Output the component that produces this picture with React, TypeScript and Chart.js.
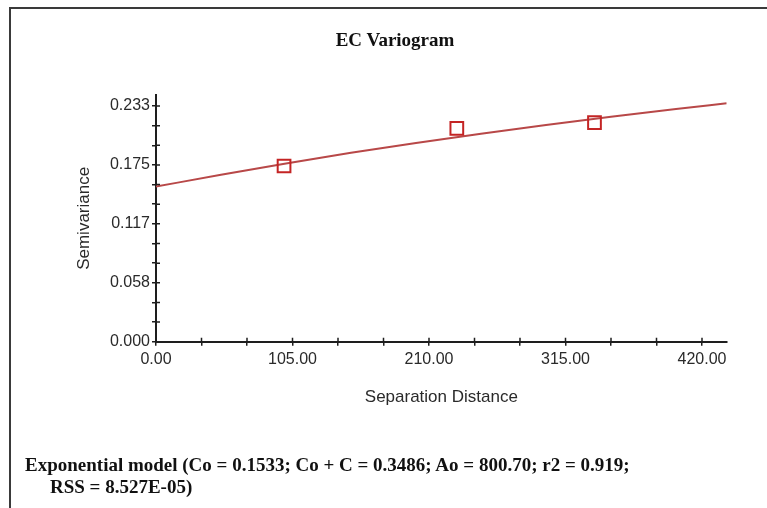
import React, { useEffect, useRef } from 'react';
import { Chart, registerables } from 'chart.js';

Chart.register(...registerables);

const chartTitle = 'EC Variogram';
const xAxisTitle = 'Separation Distance';
const yAxisTitle = 'Semivariance';
const footerLine1 = 'Exponential model (Co = 0.1533; Co + C = 0.3486; Ao = 800.70; r2 = 0.919;';
const footerLine2 = 'RSS = 8.527E-05)';

// Observed (binned) semivariance points
const sampleLag = [98.5, 231.4, 337.3];
const sampleSemivariance = [0.1737, 0.211, 0.2165];

// Fitted model curve
const modelLag = [0, 50, 100, 150, 200, 250, 300, 350, 400, 439];
const modelSemivariance = [0.1533, 0.1651, 0.1762, 0.1867, 0.1965, 0.2057, 0.2143, 0.2225, 0.2301, 0.2357];

const xMajorTicks = [0, 105, 210, 315, 420];
const xTickLabels = ['0.00', '105.00', '210.00', '315.00', '420.00'];
const yMajorTicks = [0, 0.05825, 0.1165, 0.17475, 0.233];
const yTickLabels = ['0.000', '0.058', '0.117', '0.175', '0.233'];
const minorDivisions = 3;
const xMax = 439;
const yMax = 0.2439;

const axisColor = '#1e1e1e';
const textColor = '#2a2a2a';
const lineColor = '#b84848';
const markerColor = '#c42424';
const sansFamily = "'Liberation Sans', Arial, sans-serif";
const serifFamily = "'Liberation Serif', 'Times New Roman', serif";

function withMinor(majors: number[]): number[] {
  const out: number[] = [];
  for (let i = 0; i < majors.length - 1; i++) {
    for (let k = 0; k < minorDivisions; k++) {
      out.push(majors[i] + ((majors[i + 1] - majors[i]) * k) / minorDivisions);
    }
  }
  out.push(majors[majors.length - 1]);
  return out;
}

function labelFor(v: number, majors: number[], labels: string[]): string {
  for (let i = 0; i < majors.length; i++) {
    if (Math.abs(v - majors[i]) < 1e-7) return labels[i];
  }
  return '';
}

const xTicks = withMinor(xMajorTicks);
const yTicks = withMinor(yMajorTicks);

const innerTicks = {
  id: 'innerTicks',
  afterDraw(chart: any) {
    const { ctx, chartArea, scales } = chart;
    ctx.save();
    ctx.strokeStyle = axisColor;
    ctx.lineWidth = 1.5;
    ctx.beginPath();
    scales.x.ticks.forEach((t: any) => {
      const p = scales.x.getPixelForValue(t.value);
      ctx.moveTo(p, chartArea.bottom);
      ctx.lineTo(p, chartArea.bottom - 4);
    });
    scales.y.ticks.forEach((t: any) => {
      const p = scales.y.getPixelForValue(t.value);
      ctx.moveTo(chartArea.left, p);
      ctx.lineTo(chartArea.left + 4, p);
    });
    ctx.stroke();
    ctx.restore();
  },
};

export default function App() {
  const canvasRef = useRef<HTMLCanvasElement | null>(null);

  useEffect(() => {
    if (!canvasRef.current) return;
    const chart = new Chart(canvasRef.current, {
      type: 'scatter',
      data: {
        datasets: [
          {
            label: 'Sample',
            data: sampleLag.map((x, i) => ({ x, y: sampleSemivariance[i] })),
            showLine: false,
            pointStyle: 'rect',
            pointRadius: 9,
            pointHoverRadius: 9,
            backgroundColor: 'rgba(0,0,0,0)',
            borderColor: markerColor,
            borderWidth: 2,
            order: 0,
          },
          {
            label: 'Model',
            data: modelLag.map((x, i) => ({ x, y: modelSemivariance[i] })),
            showLine: true,
            pointRadius: 0,
            borderColor: lineColor,
            borderWidth: 2,
            cubicInterpolationMode: 'monotone',
            order: 1,
          },
        ],
      },
      options: {
        responsive: false,
        animation: false,
        devicePixelRatio: 1,
        layout: { padding: { top: 95, right: 40.3, bottom: 0, left: 0 } },
        plugins: {
          legend: { display: false },
          tooltip: { enabled: false },
          title: { display: false },
        },
        scales: {
          x: {
            type: 'linear',
            min: 0,
            max: xMax,
            afterBuildTicks: (s: any) => {
              s.ticks = xTicks.map((v) => ({ value: v }));
            },
            afterFit: (s: any) => {
              s.height = 166.3;
            },
            grid: {
              display: true,
              drawOnChartArea: false,
              drawTicks: true,
              tickLength: 4,
              color: axisColor,
              lineWidth: 1.5,
            },
            border: { display: true, color: axisColor, width: 2 },
            ticks: {
              autoSkip: false,
              maxRotation: 0,
              minRotation: 0,
              padding: 4,
              color: textColor,
              font: { family: sansFamily, size: 16 },
              callback: (v: any) => labelFor(Number(v), xMajorTicks, xTickLabels),
            },
            title: {
              display: true,
              text: xAxisTitle,
              color: textColor,
              font: { family: sansFamily, size: 17 },
              padding: { top: 0, bottom: 100.8 },
            },
          },
          y: {
            type: 'linear',
            min: 0,
            max: yMax,
            afterBuildTicks: (s: any) => {
              s.ticks = yTicks.map((v) => ({ value: v }));
            },
            afterFit: (s: any) => {
              s.width = 156;
            },
            grid: {
              display: true,
              drawOnChartArea: false,
              drawTicks: true,
              tickLength: 4,
              color: axisColor,
              lineWidth: 1.5,
            },
            border: { display: true, color: axisColor, width: 2 },
            ticks: {
              autoSkip: false,
              padding: 2,
              color: textColor,
              font: { family: sansFamily, size: 16 },
              callback: (v: any) => labelFor(Number(v), yMajorTicks, yTickLabels),
            },
            title: {
              display: true,
              text: yAxisTitle,
              color: textColor,
              font: { family: sansFamily, size: 17 },
              padding: { top: 73.8, bottom: 0 },
            },
          },
        },
      },
      plugins: [innerTicks],
    } as any);
    return () => chart.destroy();
  }, []);

  return (
    <div
      style={{
        position: 'fixed',
        left: 0,
        top: 0,
        width: 767,
        height: 508,
        overflow: 'hidden',
        background: '#ffffff',
      }}
    >
      <div
        style={{
          position: 'absolute',
          left: 8.5,
          top: 7,
          width: 900,
          height: 700,
          border: '2px solid #3a3a3a',
          boxSizing: 'border-box',
        }}
      />
      <canvas
        ref={canvasRef}
        width={767}
        height={508}
        style={{ position: 'absolute', left: 0, top: 0, width: 767, height: 508 }}
      />
      <div
        style={{
          position: 'absolute',
          left: 395,
          top: 29,
          transform: 'translateX(-50%)',
          whiteSpace: 'nowrap',
          font: `bold 19px ${serifFamily}`,
          lineHeight: '22px',
          color: '#111111',
        }}
      >
        {chartTitle}
      </div>
      <div
        style={{
          position: 'absolute',
          left: 25,
          top: 453.6,
          whiteSpace: 'nowrap',
          font: `bold 19px ${serifFamily}`,
          lineHeight: '22px',
          color: '#111111',
        }}
      >
        <div>{footerLine1}</div>
        <div style={{ paddingLeft: 25 }}>{footerLine2}</div>
      </div>
    </div>
  );
}
